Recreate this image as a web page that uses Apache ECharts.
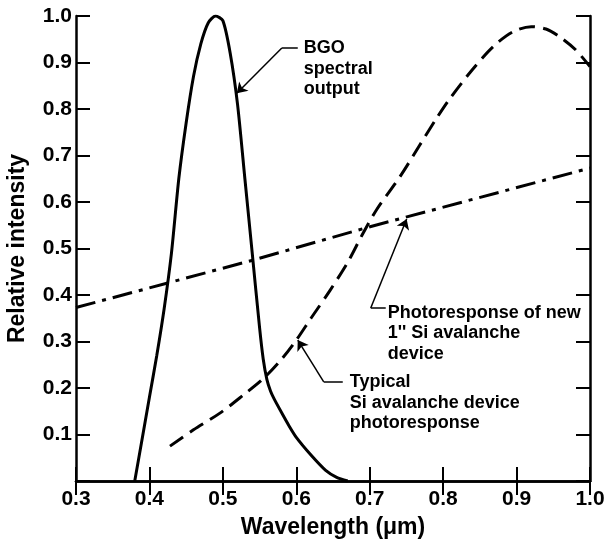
<!DOCTYPE html>
<html>
<head>
<meta charset="utf-8">
<script src="https://cdn.jsdelivr.net/npm/echarts@6/dist/echarts.min.js"></script>
<style>
html,body{margin:0;padding:0;background:#fff;}
#chart{width:611px;height:543px;}
</style>
</head>
<body>
<div id="chart"></div>
<script>
// ---- data ----
const bgoWavelength = [0.380, 0.390, 0.400, 0.410, 0.420, 0.430, 0.440, 0.450, 0.460, 0.470, 0.480, 0.490, 0.500, 0.510, 0.520, 0.530, 0.540, 0.550, 0.555, 0.560, 0.565, 0.570, 0.580, 0.590, 0.600, 0.620, 0.640, 0.655, 0.670];
const bgoIntensity  = [0.00, 0.09, 0.18, 0.27, 0.37, 0.49, 0.65, 0.77, 0.87, 0.94, 0.985, 1.00, 0.99, 0.92, 0.81, 0.65, 0.49, 0.33, 0.262, 0.218, 0.193, 0.176, 0.147, 0.119, 0.094, 0.056, 0.023, 0.008, 0.00];

const typicalWavelength = [0.428, 0.460, 0.496, 0.528, 0.555, 0.580, 0.600, 0.620, 0.646, 0.670, 0.690, 0.710, 0.741, 0.768, 0.791, 0.809, 0.840, 0.868, 0.895, 0.920, 0.940, 0.958, 0.980, 1.000];
const typicalIntensity  = [0.075, 0.110, 0.146, 0.185, 0.220, 0.262, 0.303, 0.350, 0.410, 0.470, 0.530, 0.585, 0.654, 0.722, 0.780, 0.822, 0.885, 0.934, 0.966, 0.977, 0.972, 0.956, 0.928, 0.891];

const newSiWavelength = [0.300, 0.541, 0.696, 1.000];
const newSiIntensity  = [0.373, 0.475, 0.545, 0.673];

const xTicks = [0.3, 0.4, 0.5, 0.6, 0.7, 0.8, 0.9, 1.0];
const yTicks = [0.1, 0.2, 0.3, 0.4, 0.5, 0.6, 0.7, 0.8, 0.9, 1.0];

// annotation texts and anchors (data units)
const noteTexts   = ['BGO\nspectral\noutput', 'Photoresponse of new\n1\'\' Si avalanche\ndevice', 'Typical\nSi avalanche device\nphotoresponse'];
const noteAnchors = [[0.6102, 0.9527], [0.7245, 0.3839], [0.6728, 0.2344]];
const arrowSegments = [
  [[0.5803, 0.931], [0.5190, 0.834]],
  [[0.7014, 0.372], [0.7503, 0.5634]],
  [[0.6374, 0.213], [0.6020, 0.303]]
];
const plainSegments = [
  [[0.602, 0.931], [0.5803, 0.931]],
  [[0.7218, 0.372], [0.7014, 0.372]],
  [[0.6633, 0.213], [0.6374, 0.213]]
];

// ---- chart ----
const zip = (a, b) => a.map((v, i) => [v, b[i]]);
const FONT = '"Liberation Sans", Arial, sans-serif';
const chart = echarts.init(document.getElementById('chart'), null, {renderer: 'canvas'});

const axisLine = {show: true, lineStyle: {color: '#000', width: 2.5}};
const axisTick = {show: true, inside: true, length: 14, lineStyle: {color: '#000', width: 2}};
const fmt = v => (Math.abs(v) < 1e-9 ? '' : (Math.round(v * 10) / 10).toFixed(1));

chart.setOption({
  animation: false,
  backgroundColor: '#fff',
  grid: {left: 76, right: 21, top: 16, bottom: 62, containLabel: false, outerBoundsMode: 'none'},
  xAxis: [
    {
      type: 'value', position: 'bottom', min: xTicks[0], max: xTicks[xTicks.length - 1], interval: 0.1,
      axisLine, axisTick, splitLine: {show: false},
      axisLabel: {formatter: fmt, color: '#000', fontFamily: FONT, fontWeight: 'bold', fontSize: 21, margin: 8, showMinLabel: true, showMaxLabel: true},
      name: 'Wavelength (μm)', nameLocation: 'middle', nameGap: 35,
      nameTextStyle: {color: '#000', fontFamily: FONT, fontWeight: 'bold', fontSize: 23}
    },
    {
      type: 'value', position: 'top', min: xTicks[0], max: xTicks[xTicks.length - 1], interval: 0.1,
      axisLine, axisTick, splitLine: {show: false}, axisLabel: {show: false}
    }
  ],
  yAxis: [
    {
      type: 'value', position: 'left', min: 0, max: yTicks[yTicks.length - 1], interval: 0.1,
      axisLine, axisTick, splitLine: {show: false},
      axisLabel: {formatter: fmt, color: '#000', fontFamily: FONT, fontWeight: 'bold', fontSize: 21, margin: 4},
      name: 'Relative intensity', nameLocation: 'middle', nameGap: 47,
      nameTextStyle: {color: '#000', fontFamily: FONT, fontWeight: 'bold', fontSize: 23}
    },
    {
      type: 'value', position: 'right', min: 0, max: yTicks[yTicks.length - 1], interval: 0.1,
      axisLine, axisTick, splitLine: {show: false}, axisLabel: {show: false}
    }
  ],
  series: [
    {
      name: 'BGO spectral output', type: 'line', data: zip(bgoWavelength, bgoIntensity),
      smooth: 0.25, showSymbol: false, symbol: 'none', clip: true,
      lineStyle: {color: '#000', width: 3, type: 'solid'}
    },
    {
      name: 'Typical Si avalanche device photoresponse', type: 'line', data: zip(typicalWavelength, typicalIntensity),
      smooth: 0.3, showSymbol: false, symbol: 'none', clip: true,
      lineStyle: {color: '#000', width: 3, type: [16, 8]}
    },
    {
      name: 'Photoresponse of new 1" Si avalanche device', type: 'line', data: zip(newSiWavelength, newSiIntensity),
      showSymbol: false, symbol: 'none', clip: true,
      lineStyle: {color: '#000', width: 3, type: [20, 7, 4, 7]}
    },
    {
      type: 'lines', coordinateSystem: 'cartesian2d', symbol: ['none', 'arrow'], symbolSize: [0, 10],
      lineStyle: {color: '#000', width: 1.5, opacity: 1, curveness: 0},
      data: arrowSegments.map(c => ({coords: c}))
    },
    {
      type: 'lines', coordinateSystem: 'cartesian2d', symbol: 'none',
      lineStyle: {color: '#000', width: 1.5, opacity: 1, curveness: 0},
      data: plainSegments.map(c => ({coords: c}))
    }
  ]
});

const graphics = noteTexts.map((t, i) => {
  const p = chart.convertToPixel({xAxisIndex: 0, yAxisIndex: 0}, noteAnchors[i]);
  return {
    type: 'text', x: p[0], y: p[1], z: 10,
    style: {text: t, fill: '#000', font: 'bold 18px ' + FONT, lineHeight: 20.5, textAlign: 'left', textVerticalAlign: 'top'}
  };
});
chart.setOption({graphic: graphics});
</script>
</body>
</html>
